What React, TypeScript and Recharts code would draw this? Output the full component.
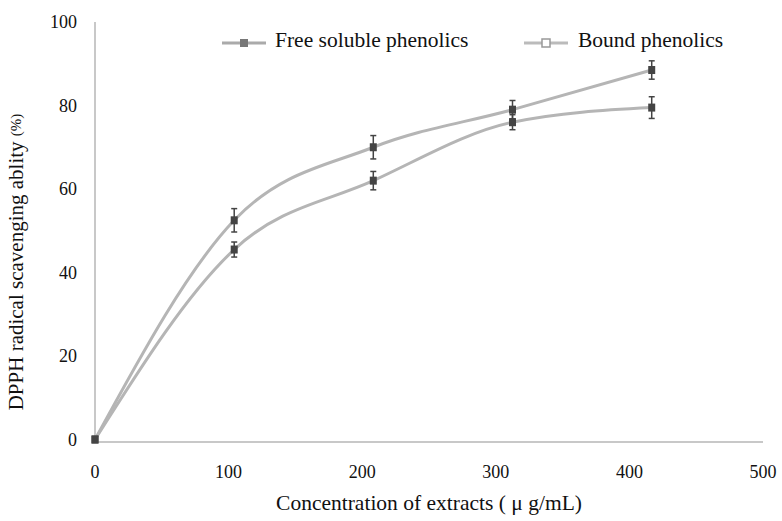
import React from "react";
import { LineChart, Line, XAxis, YAxis, ErrorBar } from "recharts";

const concentrations = [0, 104.2, 208.3, 312.5, 416.7];
const freeSoluble = [0, 52.5, 70, 79, 88.5];
const freeSolubleErr = [0.6, 2.8, 2.8, 2.2, 2.2];
const bound = [0, 45.5, 62, 76, 79.5];
const boundErr = [0.6, 1.8, 2.2, 1.8, 2.6];
const xTicks = [0, 100, 200, 300, 400, 500];
const yTicks = [0, 20, 40, 60, 80, 100];

const data = concentrations.map((c, i) => ({
  conc: c,
  free: freeSoluble[i],
  freeErr: freeSolubleErr[i],
  bound: bound[i],
  boundErr: boundErr[i],
}));

const FONT = "'Liberation Serif', 'DejaVu Serif', serif";

const SquareDot = (props: any) => {
  const { cx, cy } = props;
  if (cx == null || cy == null) return null;
  return <rect x={cx - 3.5} y={cy - 4} width={7} height={8} fill="#444" />;
};

const YLabel = (props: any) => {
  const cx = 16;
  const cy = 262;
  return (
    <text
      x={cx}
      y={cy}
      transform={`rotate(-90, ${cx}, ${cy})`}
      textAnchor="middle"
      dominantBaseline="central"
      fill="#111"
      fontFamily={FONT}
      fontSize={21}
    >
      DPPH radical scavenging ablity <tspan fontSize={15}>(%)</tspan>
    </text>
  );
};

export default function App() {
  return (
    <div style={{ position: "absolute", left: 0, top: 0, width: 782, height: 521, background: "#fff" }}>
      <div style={{ position: "absolute", left: 0, top: 28, width: 782, height: 30, fontFamily: FONT, fontSize: 21.5, color: "#111", zIndex: 2 }}>
        <svg style={{ position: "absolute", left: 222, top: 7 }} width={44} height={16}>
          <line x1={0} y1={8} x2={44} y2={8} stroke="#aaa" strokeWidth={3} />
          <rect x={18} y={4} width={8} height={8} fill="#777" />
        </svg>
        <span style={{ position: "absolute", left: 275, top: 0 }}>Free soluble phenolics</span>
        <svg style={{ position: "absolute", left: 524, top: 7 }} width={44} height={16}>
          <line x1={0} y1={8} x2={44} y2={8} stroke="#bbb" strokeWidth={3} />
          <rect x={18} y={4} width={8} height={8} fill="#fff" stroke="#999" strokeWidth={1.5} />
        </svg>
        <span style={{ position: "absolute", left: 578, top: 0 }}>Bound phenolics</span>
      </div>
      <LineChart
        width={782}
        height={521}
        data={data}
        margin={{ top: 22, right: 19, bottom: 49, left: 35 }}
      >
        <XAxis
          dataKey="conc"
          type="number"
          domain={[0, 500]}
          ticks={xTicks}
          tickLine={false}
          axisLine={{ stroke: "#c8c8c8", strokeWidth: 2 }}
          tick={{ fill: "#111", fontSize: 18, fontFamily: FONT }}
          tickMargin={17}
          height={30}
          label={{
            value: "Concentration of extracts ( μ g/mL)",
            position: "insideBottom",
            offset: -38,
            fill: "#111",
            fontSize: 21.5,
            fontFamily: FONT,
          }}
        />
        <YAxis
          type="number"
          domain={[0, 100]}
          ticks={yTicks}
          tickLine={false}
          axisLine={{ stroke: "#c8c8c8", strokeWidth: 2 }}
          tick={{ fill: "#111", fontSize: 18, fontFamily: FONT }}
          tickMargin={12}
          width={60}
          label={<YLabel />}
        />
        <Line
          type="monotone"
          dataKey="free"
          name="Free soluble phenolics"
          stroke="#b5b5b5"
          strokeWidth={3}
          dot={<SquareDot />}
          isAnimationActive={false}
        >
          <ErrorBar dataKey="freeErr" direction="y" width={3} stroke="#444" strokeWidth={1.5} />
        </Line>
        <Line
          type="monotone"
          dataKey="bound"
          name="Bound phenolics"
          stroke="#b5b5b5"
          strokeWidth={3}
          dot={<SquareDot />}
          isAnimationActive={false}
        >
          <ErrorBar dataKey="boundErr" direction="y" width={3} stroke="#444" strokeWidth={1.5} />
        </Line>
      </LineChart>
    </div>
  );
}
